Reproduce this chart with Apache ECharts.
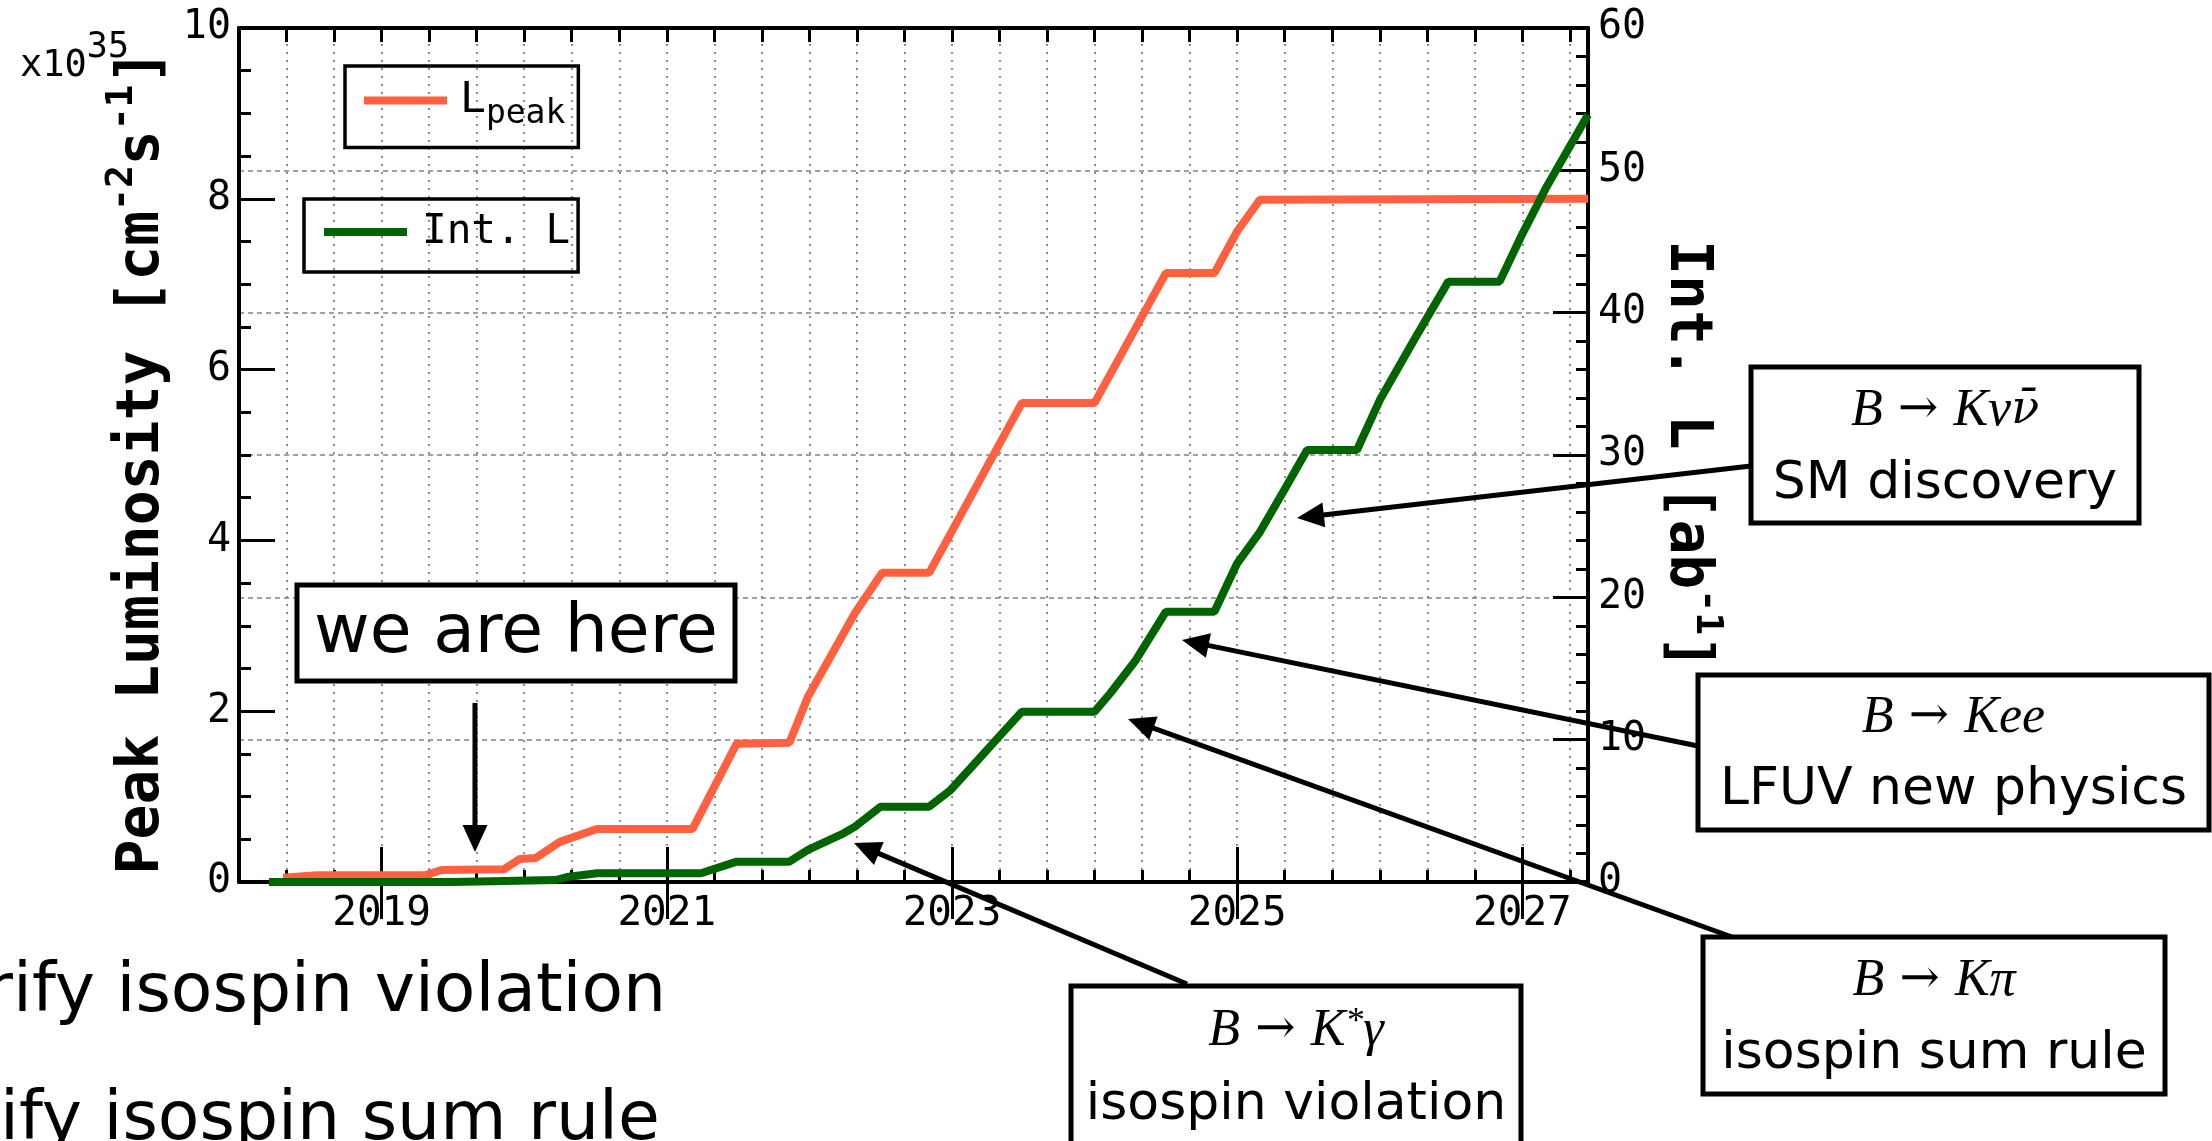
<!DOCTYPE html>
<html>
<head>
<meta charset="utf-8">
<script src="https://cdn.jsdelivr.net/npm/echarts/dist/echarts.min.js"></script>
<style>
  html, body { margin: 0; padding: 0; background: #ffffff; }
  #chart { width: 2212px; height: 1141px; }
</style>
</head>
<body>
<div id="chart"></div>
<script>
// Belle II luminosity projection: peak luminosity (left axis, x10^35 cm^-2 s^-1)
// and integrated luminosity (right axis, ab^-1) versus calendar year.

const yearLabels = [2019, 2021, 2023, 2025, 2027];
const yearRange = [2018, 2027.46];
const peakTicks = { min: 0, max: 10, step: 2 };
const intTicks = { min: 0, max: 60, step: 10 };

// [year, peak luminosity]
const peakLumi = [
  [2018.31, 0.05], [2018.55, 0.08], [2019.31, 0.08], [2019.42, 0.14],
  [2019.86, 0.15], [2019.97, 0.27], [2020.08, 0.28], [2020.25, 0.47],
  [2020.51, 0.62], [2021.18, 0.62], [2021.49, 1.62], [2021.86, 1.63],
  [2021.99, 2.17], [2022.32, 3.15], [2022.51, 3.62], [2022.84, 3.62],
  [2023.49, 5.61], [2024.00, 5.61], [2024.50, 7.13], [2024.84, 7.13],
  [2025.00, 7.62], [2025.16, 7.99], [2027.46, 8.00]
];

// [year, integrated luminosity]
const intLumi = [
  [2018.21, 0.00], [2019.50, 0.00], [2019.51, 0.14], [2020.22, 0.14],
  [2020.30, 0.35], [2020.51, 0.61], [2021.24, 0.61], [2021.49, 1.43],
  [2021.86, 1.43], [2021.99, 2.25], [2022.24, 3.42], [2022.32, 3.89],
  [2022.50, 5.29], [2022.84, 5.29], [2022.99, 6.46], [2023.15, 8.22],
  [2023.33, 10.21], [2023.49, 11.97], [2024.00, 11.97], [2024.11, 13.26],
  [2024.29, 15.60], [2024.50, 18.99], [2024.84, 18.99], [2025.00, 22.39],
  [2025.16, 24.60], [2025.33, 27.54], [2025.49, 30.35], [2025.84, 30.35],
  [2026.00, 33.86], [2026.24, 38.08], [2026.48, 42.18], [2026.84, 42.18],
  [2026.99, 45.34], [2027.17, 48.85], [2027.46, 53.90]
];

const seriesNames = ['L_peak', 'Int. L'];
const seriesColors = ['#ff6040', '#006400'];

// Physics channels pointed at along the integrated-luminosity curve
const notes = [
  { formula: '{i|B}{n| → }{i|Kν}{nb|ν̄}', caption: 'SM discovery' },
  { formula: '{i|B}{n| → }{i|Kee}', caption: 'LFUV new physics' },
  { formula: '{i|B}{n| → }{i|Kπ}', caption: 'isospin sum rule' },
  { formula: '{i|B}{n| → }{i|K}{sup|*}{i|γ}', caption: 'isospin violation' }
];
const hereText = 'we are here';
const slideLines = ['Verify isospin violation', 'Verify isospin sum rule'];

const MONO = 'DejaVu Sans Mono';
const SANS = 'DejaVu Sans';
const SERIF = 'Liberation Serif';

const G = { left: 239, top: 28, width: 1349, height: 854 };

// minor tick positions every four months
const minorStep = 1 / 3;

const chart = echarts.init(document.getElementById('chart'), null, { renderer: 'canvas' });

function baseX(extra) {
  return Object.assign({
    type: 'value', gridIndex: 0,
    min: yearRange[0], max: yearRange[1],
    axisLine: { show: false },
    axisTick: { show: false },
    axisLabel: { show: false },
    splitLine: { show: false }
  }, extra);
}

const tickLine = { color: '#000', width: 3 };

const xAxes = [
  // data axis: minor ticks + dotted grid every 4 months
  baseX({
    position: 'bottom', interval: minorStep,
    axisLine: { show: true, onZero: false, lineStyle: { color: '#000', width: 4 } },
    axisTick: { show: true, inside: true, length: 12, lineStyle: tickLine },
    splitLine: { show: true, lineStyle: { color: '#8c8c8c', width: 2, type: [2, 6] } }
  }),
  // major year ticks and labels
  baseX({
    position: 'bottom',
    axisTick: { show: true, inside: true, length: 35, lineStyle: tickLine, customValues: yearLabels },
    axisLabel: {
      show: true, customValues: yearLabels, margin: 12,
      fontFamily: MONO, fontSize: 41, color: '#000',
      formatter: v => String(Math.round(v))
    }
  }),
  // mirrored top axis
  baseX({
    position: 'top', interval: minorStep,
    axisLine: { show: true, onZero: false, lineStyle: { color: '#000', width: 4 } },
    axisTick: { show: true, inside: true, length: 14, lineStyle: tickLine }
  }),
  baseX({
    position: 'top',
    axisTick: { show: true, inside: true, length: 37, lineStyle: tickLine, customValues: yearLabels }
  })
];

const supStyle = { fontFamily: MONO, fontWeight: 'bold', fontSize: 38, lineHeight: 38, verticalAlign: 'top' };
const titleStyle = { fontFamily: MONO, fontWeight: 'bold', fontSize: 58, lineHeight: 80 };

const yAxes = [
  {
    type: 'value', position: 'left',
    min: peakTicks.min, max: peakTicks.max, interval: peakTicks.step,
    axisLine: { show: true, onZero: false, lineStyle: { color: '#000', width: 4 } },
    axisTick: { show: true, inside: true, length: 36, lineStyle: tickLine },
    minorTick: { show: true, splitNumber: 4, length: 12, lineStyle: tickLine },
    axisLabel: { margin: 8, fontFamily: MONO, fontSize: 40, color: '#000' },
    splitLine: { show: false },
    name: '{m|Peak Luminosity [cm}{s|-2}{m|s}{s|-1}{m|]}',
    nameLocation: 'middle', nameGap: 48, nameRotate: 90,
    nameTextStyle: { color: '#000', padding: [0, 14, 0, 0], rich: { m: titleStyle, s: supStyle } }
  },
  {
    type: 'value', position: 'right',
    min: intTicks.min, max: intTicks.max, interval: intTicks.step,
    axisLine: { show: true, onZero: false, lineStyle: { color: '#000', width: 4 } },
    axisTick: { show: true, inside: true, length: 35, lineStyle: tickLine },
    minorTick: { show: true, splitNumber: 5, length: 12, lineStyle: tickLine },
    axisLabel: { margin: 10, fontFamily: MONO, fontSize: 40, color: '#000' },
    splitLine: { show: true, lineStyle: { color: '#a0a0a0', width: 2, type: [5, 4] } },
    name: '{m|Int. L [ab}{s|-1}{m|]}',
    nameLocation: 'middle', nameGap: 50, nameRotate: -90,
    nameTextStyle: { color: '#000', rich: { m: titleStyle, s: supStyle } }
  }
];

// ---- annotation graphics ----
function arrowParts(x1, y1, x2, y2) {
  const dx = x2 - x1, dy = y2 - y1, L = Math.hypot(dx, dy);
  const ux = dx / L, uy = dy / L, hl = 27, hw = 12.5;
  const bx = x2 - ux * hl, by = y2 - uy * hl;
  return [
    { type: 'line', z: 110, shape: { x1: x1, y1: y1, x2: bx + ux * 3, y2: by + uy * 3 },
      style: { stroke: '#000', lineWidth: 5 } },
    { type: 'polygon', z: 111,
      shape: { points: [[x2, y2], [bx - uy * hw, by + ux * hw], [bx + uy * hw, by - ux * hw]] },
      style: { fill: '#000' } }
  ];
}

function boxParts(b) {
  return [
    { type: 'rect', z: 100, shape: { x: b.x, y: b.y, width: b.w, height: b.h },
      style: { fill: '#fff', stroke: '#000', lineWidth: 5 } }
  ];
}

const formulaRich = {
  i: { fontFamily: SERIF, fontStyle: 'italic', fontSize: 52, color: '#000' },
  nb: { fontFamily: 'DejaVu Serif', fontStyle: 'italic', fontSize: 46, color: '#000' },
  n: { fontFamily: 'DejaVu Serif', fontSize: 48, color: '#000' },
  sup: { fontFamily: SERIF, fontStyle: 'italic', fontSize: 36, color: '#000', verticalAlign: 'top', lineHeight: 40 }
};

function noteParts(note, box, f1y, f2y, from, to) {
  const cx = box.x + box.w / 2;
  return [].concat(
    boxParts(box),
    [
      { type: 'text', z: 105, x: cx, y: f1y,
        style: { text: note.formula, rich: formulaRich, align: 'center', verticalAlign: 'middle' } },
      { type: 'text', z: 105, x: cx, y: f2y,
        style: { text: note.caption, fontFamily: SANS, fontSize: 52, fill: '#000', align: 'center', verticalAlign: 'middle' } }
    ],
    arrowParts(from[0], from[1], to[0], to[1])
  );
}

const graphics = [].concat(
  // exponent of the left axis
  [{ type: 'text', z: 50, x: 20, y: 30,
     style: { text: '{a|x10}{b|35}', rich: {
       a: { fontFamily: MONO, fontSize: 37, lineHeight: 72, color: '#000' },
       b: { fontFamily: MONO, fontSize: 35, lineHeight: 34, verticalAlign: 'top', color: '#000' } } } }],
  // "we are here"
  boxParts({ x: 297, y: 585, w: 438, h: 96 }),
  [{ type: 'text', z: 105, x: 516, y: 634,
     style: { text: hereText, fontFamily: SANS, fontSize: 68, fill: '#000', align: 'center', verticalAlign: 'middle' } }],
  arrowParts(475, 703, 475, 852),
  noteParts(notes[0], { x: 1751, y: 367, w: 388, h: 156 }, 411, 484, [1751, 466], [1297, 518]),
  noteParts(notes[1], { x: 1698, y: 675, w: 511, h: 155 }, 718, 790, [1698, 746], [1182, 640]),
  noteParts(notes[2], { x: 1703, y: 937, w: 462, h: 157 }, 981, 1054, [1732, 937], [1128, 719]),
  noteParts(notes[3], { x: 1071, y: 986, w: 450, h: 180 }, 1031, 1105, [1187, 984], [854, 843]),
  // slide bullet text behind the chart
  [
    { type: 'text', z: 1, x: -98, y: 1027,
      style: { text: slideLines[0], fontFamily: SANS, fontSize: 68, fill: '#000', align: 'left', verticalAlign: 'bottom' } },
    { type: 'text', z: 1, x: -111, y: 1155,
      style: { text: slideLines[1], fontFamily: SANS, fontSize: 68, fill: '#000', align: 'left', verticalAlign: 'bottom' } }
  ]
);

const option = {
  backgroundColor: '#ffffff',
  animation: false,
  grid: [{ left: G.left, top: G.top, width: G.width, height: G.height, containLabel: false }],
  xAxis: xAxes,
  yAxis: yAxes,
  legend: [
    {
      data: [seriesNames[0]], left: 345, top: 66, orient: 'horizontal',
      padding: [13, 13, 17, 19], itemWidth: 83, itemHeight: 8, icon: 'rect',
      borderColor: '#000', borderWidth: 3.5, backgroundColor: 'transparent',
      selectedMode: false,
      formatter: () => '{m|L}{s|peak}',
      textStyle: {
        padding: [0, 0, 0, 8],
        rich: {
          m: { fontFamily: MONO, fontSize: 43, lineHeight: 60, color: '#000' },
          s: { fontFamily: MONO, fontSize: 33, lineHeight: 30, verticalAlign: 'bottom', color: '#000' }
        }
      }
    },
    {
      data: [seriesNames[1]], left: 304, top: 199, orient: 'horizontal',
      padding: [11, 8, 18, 20], itemWidth: 83, itemHeight: 8, icon: 'rect',
      borderColor: '#000', borderWidth: 3.5, backgroundColor: 'transparent',
      selectedMode: false,
      textStyle: { padding: [0, 0, 0, 10], fontFamily: MONO, fontSize: 41, lineHeight: 44, color: '#000' }
    }
  ],
  series: [
    {
      name: seriesNames[0], type: 'line', xAxisIndex: 0, yAxisIndex: 0,
      data: peakLumi, showSymbol: false, symbol: 'none', z: 3,
      color: seriesColors[0], lineStyle: { color: seriesColors[0], width: 8 }
    },
    {
      name: seriesNames[1], type: 'line', xAxisIndex: 0, yAxisIndex: 1,
      data: intLumi, showSymbol: false, symbol: 'none', z: 4,
      color: seriesColors[1], lineStyle: { color: seriesColors[1], width: 8 }
    }
  ],
  graphic: graphics
};

chart.setOption(option);
</script>
</body>
</html>
